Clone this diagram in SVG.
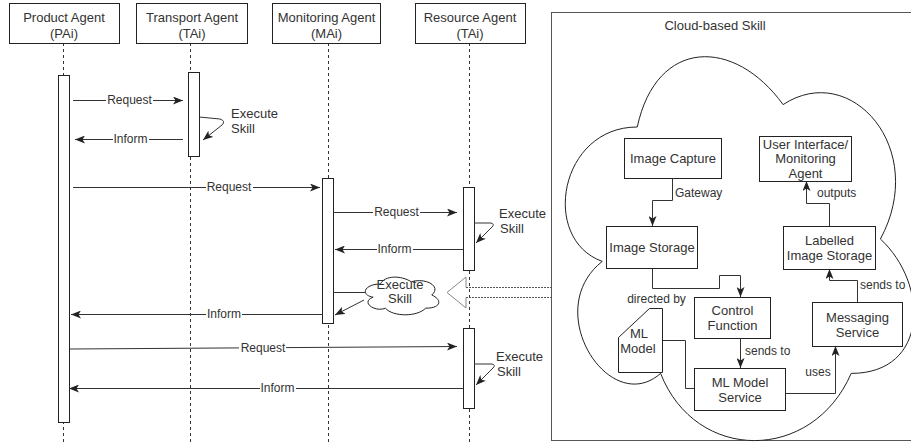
<svg xmlns="http://www.w3.org/2000/svg" width="911" height="442" viewBox="0 0 911 442">
<defs>
<marker id="arr" markerUnits="userSpaceOnUse" markerWidth="10" markerHeight="8" viewBox="0 0 10 8" refX="10" refY="4" orient="auto"><path d="M0,0 L10,4 L0,8 L2.5,4 Z" fill="#222"/></marker>
</defs>
<style>
.box{fill:#fff;stroke:#222;stroke-width:1}
.life{stroke:#333;stroke-width:1;stroke-dasharray:3 3;fill:none}
.act{fill:#fff;stroke:#222;stroke-width:1}
.ln{stroke:#333;stroke-width:1;fill:none}
.ar{marker-end:url(#arr)}
.lbg{fill:#fff;stroke:none}
text{font-family:"Liberation Sans",Arial,sans-serif;fill:#333}
.t13{font-size:13px}
.t12{font-size:12px}
.c{text-anchor:middle}
</style>
<rect x="0" y="0" width="911" height="442" fill="#fff"/>

<g id="lifelines">
<path class="life" d="M63.5,43 V442"/>
<path class="life" d="M190.5,43 V442"/>
<path class="life" d="M328.5,43 V442"/>
<path class="life" d="M469.5,43 V442"/>
</g>

<g id="panel">
<rect x="551.5" y="12.5" width="380" height="428" fill="#fff" stroke="#555"/>
<text class="t13 c" x="715" y="30">Cloud-based Skill</text>
<path d="M637.25,127 C559.45,127 540,239 602.24,261.4 C540,310.7 610,418.2 660.6,373.4 C695.6,463 812.3,463 851.2,373.4 C929,373.4 929,283.8 880.4,239 C929,149.4 851.2,59.8 783.1,104.6 C734.5,37.4 656.7,37.4 637.25,127 Z" fill="#fff" stroke="#222"/>
</g>

<g id="pai">
<rect class="box" x="9.5" y="3.5" width="110" height="40"/>
<text class="t13 c" x="64" y="21.6">Product Agent</text>
<text class="t13 c" x="64" y="37.6">(PAi)</text>
<rect class="act" x="58.5" y="75.5" width="11" height="347"/>
</g>
<g id="tai">
<rect class="box" x="136.5" y="3.5" width="111" height="40"/>
<text class="t13 c" x="192" y="21.6">Transport Agent</text>
<text class="t13 c" x="192" y="37.6">(TAi)</text>
<rect class="act" x="188.5" y="72.5" width="11" height="84"/>
</g>
<g id="mai">
<rect class="box" x="272.5" y="3.5" width="108" height="40"/>
<text class="t13 c" x="326.5" y="21.6">Monitoring Agent</text>
<text class="t13 c" x="326.5" y="37.6">(MAi)</text>
<rect class="act" x="322.5" y="178.5" width="11" height="145"/>
</g>
<g id="rai">
<rect class="box" x="415.5" y="3.5" width="110" height="40"/>
<text class="t13 c" x="470" y="21.6">Resource Agent</text>
<text class="t13 c" x="470" y="37.6">(TAi)</text>
<rect class="act" x="463.5" y="187.5" width="11" height="83"/>
<rect class="act" x="463.5" y="328.5" width="11" height="80"/>
</g>

<g id="exec-cloud">
<path d="M380.5,284 C364.1,284 360,295 373.1,297.2 C360,302 374.8,312.6 385.4,308.2 C392.8,317 417.4,317 425.6,308.2 C442,308.2 442,299.4 431.75,295 C442,286.2 425.6,277.4 411.25,281.8 C401,275.2 384.6,275.2 380.5,284 Z" fill="#fff" stroke="#222"/>
<text class="t13 c" x="400" y="288.6">Execute</text>
<text class="t13 c" x="400" y="302.6">Skill</text>
</g>

<g id="hollow-arrow">
<path d="M466,287.5 H552 M466,297.5 H552" stroke="#555" stroke-dasharray="2 1" fill="none"/>
<path d="M466,287.5 V277 L447,292.5 L466,308 V297.5" stroke="#888" fill="none"/>
</g>

<g id="connectors">
<path class="ln ar" d="M73,100.5 H183"/>
<path class="ln ar" d="M199,117 L220,119 Q226,121 222,125 L203,140"/>
<path class="ln ar" d="M183,139.5 H75"/>
<path class="ln ar" d="M73,187.5 H320"/>
<path class="ln ar" d="M333,212.5 H457"/>
<path class="ln ar" d="M474,223 L491,223 Q495,224 492,227 L476,243"/>
<path class="ln ar" d="M463,249.5 H335"/>
<path class="ln" d="M333,292.5 H365"/>
<path class="ln ar" d="M364,300 L335,315"/>
<path class="ln ar" d="M323,314.5 H71"/>
<path class="ln ar" d="M70,349 L457,346.5"/>
<path class="ln ar" d="M474,364 L492,364 Q496,365 493,368 L476,385"/>
<path class="ln ar" d="M463,388.5 H69"/>

<path class="ln ar" d="M672.5,178 V200.5 H652.5 V226"/>
<path class="ln ar" d="M829.5,226 V203.5 H806.5 V181"/>
<path class="ln ar" d="M652.5,268 V288.5 H719.5 V275.5 H740.5 V297"/>
<path class="ln" d="M662,340.5 H685.5 V388.5 H694"/>
<path class="ln ar" d="M740.5,338 V368"/>
<path class="ln ar" d="M785,393.5 H835.5 V346"/>
<path class="ln ar" d="M857.5,302 V280.5 H829.5 V269"/>
</g>

<g id="msg-labels">
<rect class="lbg" x="106" y="94" width="47" height="13"/><text class="t12 c" x="129.5" y="104.2">Request</text>
<rect class="lbg" x="113" y="133" width="36" height="13"/><text class="t12 c" x="130.5" y="143.2">Inform</text>
<rect class="lbg" x="206" y="181" width="47" height="13"/><text class="t12 c" x="229" y="191.2">Request</text>
<rect class="lbg" x="373" y="206" width="47" height="13"/><text class="t12 c" x="396.5" y="216.2">Request</text>
<rect class="lbg" x="377" y="243" width="36" height="13"/><text class="t12 c" x="394.5" y="253.2">Inform</text>
<rect class="lbg" x="206" y="308" width="36" height="13"/><text class="t12 c" x="224" y="318.2">Inform</text>
<rect class="lbg" x="239" y="341" width="47" height="13"/><text class="t12 c" x="263" y="351.8">Request</text>
<rect class="lbg" x="260" y="382" width="36" height="13"/><text class="t12 c" x="277.5" y="392.2">Inform</text>
<text class="t13" x="231" y="117.6">Execute</text>
<text class="t13" x="231" y="132.6">Skill</text>
<text class="t13" x="499" y="217.6">Execute</text>
<text class="t13" x="500" y="232.6">Skill</text>
<text class="t13" x="496" y="360.6">Execute</text>
<text class="t13" x="497" y="375.6">Skill</text>
</g>

<g id="image-capture">
<rect class="box" x="624.5" y="138.5" width="97" height="40"/>
<text class="t13 c" x="673" y="162.6">Image Capture</text>
</g>
<g id="ui-monitoring">
<rect class="box" x="759.5" y="136.5" width="92" height="45"/>
<text class="t13 c" x="805.5" y="148.6">User Interface/</text>
<text class="t13 c" x="805.5" y="163.1">Monitoring</text>
<text class="t13 c" x="805.5" y="177.6">Agent</text>
</g>
<g id="image-storage">
<rect class="box" x="606.5" y="226.5" width="91" height="42"/>
<text class="t13 c" x="652" y="251.6">Image Storage</text>
</g>
<g id="labelled-storage">
<rect class="box" x="783.5" y="226.5" width="92" height="43"/>
<text class="t13 c" x="829.5" y="244.6">Labelled</text>
<text class="t13 c" x="829.5" y="259.6">Image Storage</text>
</g>
<g id="control-function">
<rect class="box" x="694.5" y="297.5" width="76" height="41"/>
<text class="t13 c" x="732.5" y="314.6">Control</text>
<text class="t13 c" x="732.5" y="329.6">Function</text>
</g>
<g id="messaging-service">
<rect class="box" x="812.5" y="302.5" width="90" height="44"/>
<text class="t13 c" x="857.5" y="321.6">Messaging</text>
<text class="t13 c" x="857.5" y="336.6">Service</text>
</g>
<g id="ml-model-service">
<rect class="box" x="694.5" y="368.5" width="91" height="42"/>
<text class="t13 c" x="740" y="386.6">ML Model</text>
<text class="t13 c" x="740" y="401.6">Service</text>
</g>
<g id="ml-model">
<path class="box" d="M649.5,308.5 H662.5 V372.5 H618.5 V337.5 Z"/>
<text class="t13 c" x="639" y="337.6">ML</text>
<text class="t13 c" x="638" y="352.6">Model</text>
</g>

<g id="edge-labels">
<text class="t12" x="675" y="197.2">Gateway</text>
<text class="t12" x="817" y="197.2">outputs</text>
<text class="t12 c" x="656.5" y="303.2">directed by</text>
<text class="t12" x="745" y="355.2">sends to</text>
<text class="t12 c" x="818" y="376.2">uses</text>
<text class="t12" x="860" y="289.2">sends to</text>
</g>
</svg>
